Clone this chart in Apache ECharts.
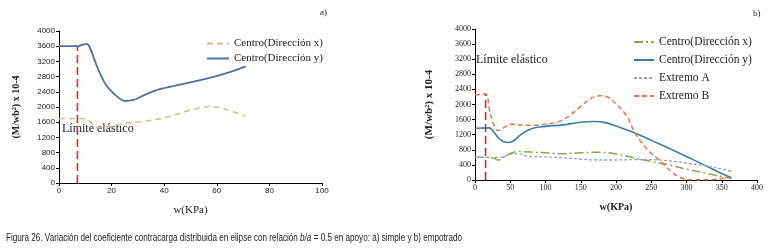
<!DOCTYPE html>
<html>
<head>
<meta charset="utf-8">
<script src="https://cdn.jsdelivr.net/npm/echarts@6/dist/echarts.min.js"></script>
<style>
  html, body { margin: 0; padding: 0; background: #fff; }
  #chart { width: 778px; height: 249px; }
</style>
</head>
<body>
<div id="chart"></div>
<script>
// chart a) simple support, w (KPa) vs coefficient
const aCentroY = [[0, 3600], [7, 3600], [9, 3640], [10.5, 3660], [12, 3520], [14, 3150], [16, 2820], [18, 2570], [20, 2410], [22, 2280], [25, 2160], [28, 2180], [32, 2300], [36, 2420], [40, 2500], [46, 2590], [52, 2680], [58, 2780], [64, 2900], [71, 3070]];
const aCentroX = [[0, 1690], [7, 1700], [10, 1690], [12, 1600], [14.5, 1460], [18, 1480], [22, 1530], [28, 1590], [35, 1650], [42, 1750], [48, 1880], [53, 1970], [57, 2010], [61, 1980], [66, 1880], [71, 1760]];
const aLimite = [[7, 0], [7, 3600]];

// chart b) fixed support
const bCentroX = [[0, 600], [20, 600], [28, 570], [33, 530], [40, 600], [50, 700], [61, 755], [80, 740], [100, 720], [125, 695], [150, 720], [175, 735], [200, 690], [225, 590], [250, 490], [275, 400], [300, 290], [325, 190], [350, 90], [364, 50]];
const bCentroY = [[0, 1370], [20, 1380], [26, 1290], [33, 1120], [40, 1020], [47, 995], [55, 1040], [65, 1200], [80, 1360], [100, 1420], [125, 1460], [150, 1530], [170, 1550], [185, 1520], [200, 1430], [227, 1245], [250, 1050], [275, 840], [300, 620], [325, 400], [350, 170], [364, 60]];
const bExtremoA = [[0, 600], [20, 600], [35, 600], [50, 680], [60, 700], [75, 630], [100, 610], [125, 590], [150, 550], [175, 530], [200, 530], [225, 540], [250, 540], [275, 510], [300, 450], [325, 380], [350, 290], [364, 230]];
const bExtremoB = [[0, 2250], [15, 2280], [20, 1900], [26, 1500], [33, 1310], [42, 1400], [50, 1480], [75, 1450], [100, 1480], [125, 1600], [150, 1950], [165, 2170], [177, 2230], [188, 2200], [200, 2020], [215, 1700], [227, 1250], [245, 800], [262, 520], [280, 200], [295, 40], [310, 5], [335, 5], [350, 40], [362, 60]];
const bLimite = [[15, 0], [15, 2280]];

const xTicksA = { min: 0, max: 100, interval: 20 };
const xTicksB = { min: 0, max: 400, interval: 50 };
const yTicks = { min: 0, max: 4000, interval: 400 };

const serif = '"Liberation Serif", "DejaVu Serif", serif';
const sans = '"Liberation Sans", Arial, sans-serif';

function line(name, data, xi, color, width, dash, smooth) {
    return {
        name: name,
        type: 'line',
        xAxisIndex: xi,
        yAxisIndex: xi,
        data: data,
        symbol: 'none',
        smooth: smooth,
        lineStyle: { color: color, width: width, type: dash },
        itemStyle: { color: color },
        silent: true
    };
}

function axisX(i, t, nameStyle, labelFont) {
    return {
        gridIndex: i, type: 'value', min: t.min, max: t.max, interval: t.interval,
        name: 'w(KPa)', nameLocation: 'middle', nameGap: 22, nameTextStyle: nameStyle,
        axisLine: { lineStyle: { color: '#000', width: 1 } },
        axisTick: { length: 3, lineStyle: { color: '#000' } },
        axisLabel: { fontFamily: labelFont, fontSize: 8, color: '#222', margin: 4 },
        splitLine: { show: false }
    };
}

function axisY(i, gap, nameStyle, labelFont) {
    return {
        gridIndex: i, type: 'value', min: yTicks.min, max: yTicks.max, interval: yTicks.interval,
        name: '(M/wb²) x 10-4', nameLocation: 'middle', nameGap: gap, nameRotate: 90,
        nameTextStyle: nameStyle,
        axisLine: { show: true, lineStyle: { color: '#000', width: 1 } },
        axisTick: { show: true, length: 3, lineStyle: { color: '#000' } },
        axisLabel: { fontFamily: labelFont, fontSize: 8, color: '#222', margin: 4, formatter: v => String(v) },
        splitLine: { show: false }
    };
}

const chart = echarts.init(document.getElementById('chart'));
chart.setOption({
    animation: false,
    backgroundColor: '#fff',
    grid: [
        { left: 59, top: 31, width: 263, height: 152 },
        { left: 475, top: 29, width: 282, height: 151 }
    ],
    xAxis: [
        axisX(0, xTicksA, { fontFamily: serif, fontSize: 11, color: '#222' }, sans),
        axisX(1, xTicksB, { fontFamily: serif, fontSize: 10, fontWeight: 'bold', color: '#222' }, serif)
    ],
    yAxis: [
        axisY(0, 38, { fontFamily: serif, fontSize: 10, fontWeight: 'bold', color: '#222' }, sans),
        axisY(1, 40, { fontFamily: serif, fontSize: 11, fontWeight: 'bold', color: '#222' }, serif)
    ],
    legend: [
        {
            left: 201, top: 33, orient: 'vertical', itemGap: 4,
            itemWidth: 22, itemHeight: 8,
            itemStyle: { opacity: 0 },
            data: ['a:Centro(Dirección x)', 'a:Centro(Dirección y)'],
            formatter: n => n.slice(2),
            textStyle: { fontFamily: serif, fontSize: 11, color: '#222' }
        },
        {
            left: 628, top: 31, orient: 'vertical', itemGap: 6,
            itemWidth: 20, itemHeight: 8,
            itemStyle: { opacity: 0 },
            data: ['b:Centro(Dirección x)', 'b:Centro(Dirección y)', 'b:Extremo A', 'b:Extremo B'],
            formatter: n => n.slice(2),
            textStyle: { fontFamily: serif, fontSize: 11.5, color: '#222' }
        }
    ],
    series: [
        line('a:Centro(Dirección x)', aCentroX, 0, '#c9c289', 1.5, [6, 4], 0.4),
        line('a:Centro(Dirección y)', aCentroY, 0, '#4e6fa6', 1.8, 'solid', 0.4),
        line('aLimite', aLimite, 0, '#d12f2f', 1.6, [8, 4], false),
        line('b:Centro(Dirección x)', bCentroX, 1, '#93a646', 1.5, [9, 3, 2, 3], 0.4),
        line('b:Centro(Dirección y)', bCentroY, 1, '#3d7ea7', 1.6, 'solid', 0.4),
        line('b:Extremo A', bExtremoA, 1, '#8da3d8', 1.3, [3, 2], 0.4),
        line('b:Extremo B', bExtremoB, 1, '#e6774b', 1.5, [5, 3], 0.4),
        line('bLimite', bLimite, 1, '#d12f2f', 1.6, [8, 4], false)
    ],
    graphic: [
        { type: 'text', left: 320, top: 8, style: { text: 'a)', font: '9px ' + serif, fill: '#222' } },
        { type: 'text', left: 753, top: 9, style: { text: 'b)', font: '9px ' + serif, fill: '#222' } },
        { type: 'text', left: 62, top: 123, style: { text: 'Límite elástico', font: '12px ' + serif, fill: '#222' } },
        { type: 'text', left: 476, top: 54, style: { text: 'Límite elástico', font: '12px ' + serif, fill: '#222' } },
        {
            type: 'text', x: 6, y: 232, scaleX: 0.707,
            style: {
                rich: {
                    n: { fontFamily: sans, fontSize: 11.5, fill: '#222' },
                    i: { fontFamily: sans, fontSize: 11.5, fontStyle: 'italic', fill: '#222' }
                },
                text: '{n|Figura 26. Variación del coeficiente contracarga distribuida en elipse con relación }{i|b/a}{n| = 0.5 en apoyo: a) simple y b) empotrado}'
            }
        }
    ]
});
</script>
</body>
</html>
